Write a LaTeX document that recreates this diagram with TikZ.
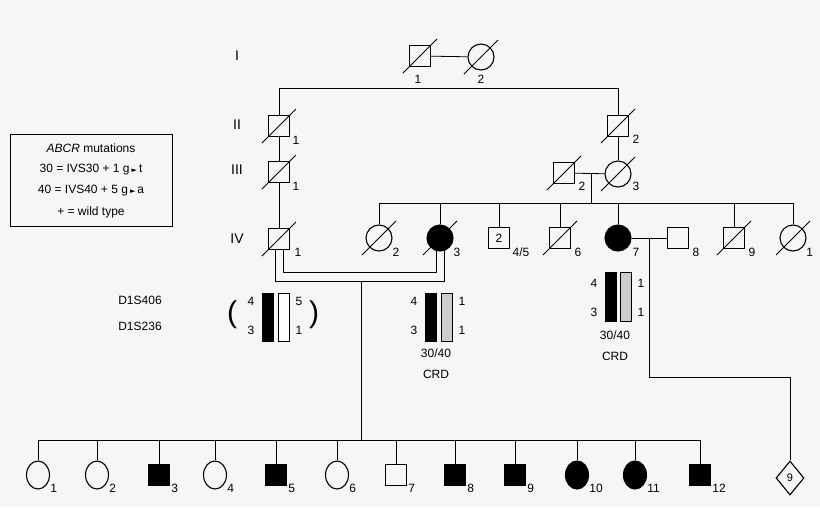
\documentclass[tikz,border=0pt]{standalone}
\usepackage{fontspec}
\setmainfont{Liberation Sans}
\newfontfamily\symf{DejaVu Sans}
\usetikzlibrary{shapes.geometric,calc}
\definecolor{bg}{HTML}{F6F6F6}
\definecolor{bargray}{HTML}{CCCCCC}
\newcommand{\tri}{{\symf\scriptsize ►}}
\begin{document}
\begin{tikzpicture}[x=1pt,y=-1pt,line width=0.8pt,
  sq/.style={draw,line width=1.1pt,rectangle,minimum size=21pt,inner sep=0pt},
  ci/.style={draw,line width=1.1pt,circle,minimum size=26pt,inner sep=0pt},
  ov/.style={draw,line width=1.1pt,ellipse,minimum width=23pt,minimum height=28pt,inner sep=0pt},
  aff/.style={fill=black},
  lab/.style={font=\fontsize{12}{12}\selectfont,inner sep=0pt},
  gen/.style={font=\fontsize{14}{14}\selectfont,inner sep=0pt},
  bar/.style={draw,line width=0.9pt,minimum width=11pt,inner sep=0pt}]
\fill[bg] (0,0) rectangle (820,507);
\useasboundingbox (0,0) rectangle (820,507);
\newcommand{\dec}[1]{\draw[line width=0.8pt] (#1.center)+(-17,17) -- +(17,-17);}
% generation labels
\node[gen] (gI) at (237,56) {I};
\node[gen] (gII) at (237,125) {II};
\node[gen] (gIII) at (237,170) {III};
\node[gen] (gIV) at (237,239) {IV};
% legend
\node[draw,line width=0.6pt,fill=bg,minimum width=162pt,minimum height=92pt,inner sep=0pt] (leg) at (91,180) {};
\node[lab] (l1) at (91,148) {\textit{ABCR} mutations};
\node[lab] (l2) at (91,170) {30 = IVS30 + 1 g\,\tri\,t};
\node[lab] (l3) at (91,191) {40 = IVS40 + 5 g\,\tri\,a};
\node[lab] (l4) at (91,212) {+ = wild type};
% Gen I
\node[sq] (I1) at (420,56) {}; \dec{I1}
\node[ci] (I2) at (481,57) {}; \dec{I2}
\node[lab] (tI1) at (418,79) {1};
\node[lab] (tI2) at (481,79) {2};
\draw (I1) -- (I2);
% Gen II
\node[sq] (II1) at (279,126) {}; \dec{II1}
\node[sq] (II2) at (618,126) {}; \dec{II2}
\node[lab] (tII1) at (296,140) {1};
\node[lab] (tII2) at (636,139) {2};
\draw (II1.north) -- ++(0,-27) -| (II2.north);
% Gen III
\node[sq] (III1) at (279,172) {}; \dec{III1}
\node[sq] (III2) at (564,173) {}; \dec{III2}
\node[ci] (III3) at (618,174) {}; \dec{III3}
\node[lab] (tIII1) at (296,186) {1};
\node[lab] (tIII2) at (582,186) {2};
\node[lab] (tIII3) at (636,186) {3};
\draw (II1) -- (III1);
\draw (II2) -- (III3);
\draw (III2) -- (III3);
\coordinate (m3) at (591,174);
\coordinate (s4) at (591,203);
\draw (m3) -- (s4);
% Gen IV
\node[sq] (IV1) at (279,239) {}; \dec{IV1}
\node[ci] (IV2) at (379,238) {}; \dec{IV2}
\node[ci,aff] (IV3) at (440,238) {}; \dec{IV3}
\node[sq] (IV4) at (499,238) {\fontsize{12}{12}\selectfont 2};
\node[sq] (IV6) at (560,238) {}; \dec{IV6}
\node[ci,aff] (IV7) at (618,238) {};
\node[sq] (IV8) at (678,238) {};
\node[sq] (IV9) at (734,238) {}; \dec{IV9}
\node[ci] (IV10) at (793,238) {}; \dec{IV10}
\draw (III1) -- (IV1);
\draw (IV2.north) -- (IV2.north |- s4) -| (IV10.north);
\foreach \n in {IV3,IV4,IV6,IV7,IV9} \draw (\n.north) -- (\n.north |- s4);
\node[lab] (tIV1) at (298,252) {1};
\node[lab] (tIV2) at (396,252) {2};
\node[lab] (tIV3) at (457,252) {3};
\node[lab] (tIV4) at (521,252) {4/5};
\node[lab] (tIV6) at (578,252) {6};
\node[lab] (tIV7) at (636,252) {7};
\node[lab] (tIV8) at (696,252) {8};
\node[lab] (tIV9) at (752,252) {9};
\node[lab,anchor=west] (tIV10) at (806,252) {1};
% consanguineous marriage
\coordinate (k1) at (283,250); \coordinate (k2) at (436,251);
\coordinate (k3) at (275,250); \coordinate (k4) at (444,249);
\draw (k1) -- (283,272) -- (436,272) -- (k2);
\draw (k3) -- (275,281) -- (444,281) -- (k4);
\coordinate (m4) at (361,281);
\coordinate (s5) at (361,440);
\draw (m4) -- (s5);
% IV7 x IV8
\draw (IV7) -- (IV8);
\coordinate (m7) at (649,238);
\coordinate (c1) at (649,377);
\coordinate (c2) at (790,377);
\node[diamond,draw,line width=1.1pt,minimum width=28pt,minimum height=34pt,inner sep=0pt,font=\fontsize{11}{11}\selectfont] (V9) at (790,478) {9};
\draw (m7) -- (c1) -- (c2) -- (V9.north);
% haplotypes
\node[lab] (h1) at (140,300) {D1S406};
\node[lab] (h2) at (140,326) {D1S236};
\node[font=\fontsize{30}{30}\selectfont,inner sep=0pt] (pl) at (232,315) {(};
\node[font=\fontsize{30}{30}\selectfont,inner sep=0pt] (pr) at (314,315) {)};
\node[lab] (a1) at (251,301) {4};
\node[lab] (a2) at (251,330) {3};
\node[bar,fill=black,minimum height=48pt] (b1) at (268,317) {};
\node[bar,fill=white,minimum height=48pt] (b2) at (284,317) {};
\node[lab] (a3) at (299,301) {5};
\node[lab] (a4) at (299,330) {1};
\node[lab] (c3a) at (414,301) {4};
\node[lab] (c3b) at (414,330) {3};
\node[bar,fill=black,minimum height=48pt] (b3) at (431,317) {};
\node[bar,fill=bargray,minimum height=48pt] (b4) at (447,317) {};
\node[lab] (c3c) at (462,301) {1};
\node[lab] (c3d) at (462,330) {1};
\node[lab] (g3) at (436,353) {30/40};
\node[lab] (d3) at (436,374) {CRD};
\node[lab] (c7a) at (594,283) {4};
\node[lab] (c7b) at (594,312) {3};
\node[bar,fill=black,minimum height=49pt] (b5) at (611,297) {};
\node[bar,fill=bargray,minimum height=49pt] (b6) at (626,297) {};
\node[lab] (c7c) at (641,283) {1};
\node[lab] (c7d) at (641,312) {1};
\node[lab] (g7) at (615,335) {30/40};
\node[lab] (d7) at (615,356) {CRD};
% Gen V
\node[ov] (V1) at (38,475) {};
\node[ov] (V2) at (97,475) {};
\node[sq,aff] (V3) at (159,475) {};
\node[ov] (V4) at (215,475) {};
\node[sq,aff] (V5) at (276,475) {};
\node[ov] (V6) at (337,475) {};
\node[sq] (V7) at (396,475) {};
\node[sq,aff] (V8) at (455,475) {};
\node[sq,aff] (V9b) at (515,475) {};
\node[ov,aff] (V10) at (577,475) {};
\node[ov,aff] (V11) at (635,475) {};
\node[sq,aff] (V12) at (700,475) {};
\draw (V1.north) -- (V1.north |- s5) -| (V12.north);
\foreach \n in {V2,V3,V4,V5,V6,V7,V8,V9b,V10,V11} \draw (\n.north) -- (\n.north |- s5);
\foreach \n/\t in {V1/1,V2/2,V3/3,V4/4,V5/5,V6/6,V7/7,V8/8,V9b/9,V10/10,V11/11,V12/12}
  \node[lab,anchor=west] (t\n) at ($(\n.center)+(12,13)$) {\t};
\end{tikzpicture}
\end{document}
